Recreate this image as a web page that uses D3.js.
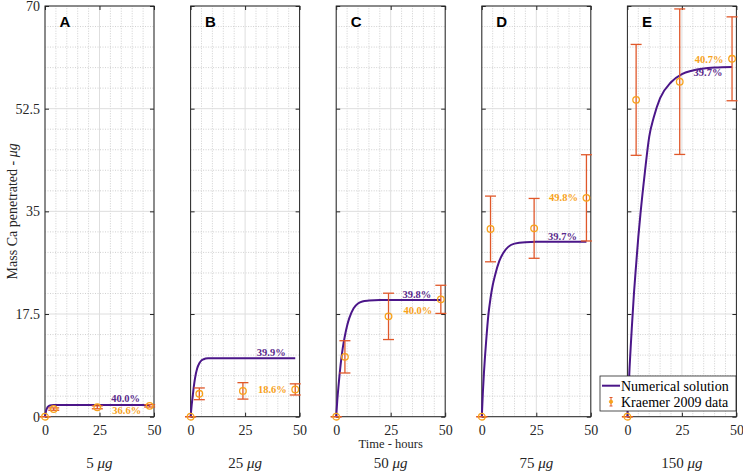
<!DOCTYPE html>
<html>
<head>
<meta charset="utf-8">
<script src="https://cdn.jsdelivr.net/npm/d3@7"></script>
<style>
  body { margin: 0; background: #fff; }
</style>
</head>
<body>
<svg id="grafico"></svg>
<script>
// painéis (doses) e letras
const letras = ['A', 'B', 'C', 'D', 'E'];
const doses = [5, 25, 50, 75, 150];

// solução numérica (µg), nos tempos da curva
const tempoCurva = [0, 0.5, 1, 1.5, 2, 3, 4, 5, 6, 8, 10, 12, 15, 20, 25, 30, 40, 48];
const curvaA = [0, 1.0, 1.5, 1.75, 1.88, 1.96, 1.99, 2.0, 2.0, 2.0, 2.0, 2.0, 2.0, 2.0, 2.0, 2.0, 2.0, 2.0];
const curvaB = [0, 2.0, 3.6, 5.2, 6.5, 8.2, 9.1, 9.6, 9.8, 9.95, 9.98, 9.98, 9.98, 9.98, 9.98, 9.98, 9.98, 9.98];
const curvaC = [0, 2.8, 5.0, 7.0, 8.8, 11.7, 13.8, 15.5, 16.8, 18.5, 19.3, 19.65, 19.8, 19.9, 19.9, 19.9, 19.9, 19.9];
const curvaD = [0, 4.2, 7.6, 10.4, 12.9, 17.3, 20.2, 22.4, 24.0, 26.5, 28.0, 28.9, 29.5, 29.75, 29.8, 29.8, 29.8, 29.8];
const curvaE = [0, 4.3, 8.4, 11.8, 15.0, 21.0, 25.9, 30.6, 34.6, 41.6, 47.7, 50.9, 54.3, 57.0, 58.4, 59.0, 59.5, 59.6];

// dados de Kraemer 2009 (média e erro)
const tempoDados = [0, 4, 24, 48];
const mediaA = [0, 1.3, 1.6, 1.85];
const erroA = [0, 0.2, 0.25, 0.2];
const mediaB = [0, 3.9, 4.4, 4.65];
const erroB = [0, 1.0, 1.4, 0.95];
const mediaC = [0, 10.2, 17.1, 20.0];
const erroC = [0, 2.75, 3.95, 2.4];
const mediaD = [0, 32.0, 32.1, 37.3];
const erroD = [0, 5.6, 5.1, 7.35];
const mediaE = [0, 54.0, 57.1, 61.0];
const erroE = [0, 9.45, 12.4, 7.15];

// rótulos de porcentagem
const pctModelo = ['40.0%', '39.9%', '39.8%', '39.7%', '39.7%'];
const pctDados = ['36.6%', '18.6%', '40.0%', '49.8%', '40.7%'];

// ticks
const ticksX = [0, 25, 50];
const ticksY = [0, 17.5, 35, 52.5, 70];
const rotulosY = ['0', '17.5', '35', '52.5', '70'];

const curvas = [curvaA, curvaB, curvaC, curvaD, curvaE];
const medias = [mediaA, mediaB, mediaC, mediaD, mediaE];
const erros = [erroA, erroB, erroC, erroD, erroE];

// deslocamento (px) dos rótulos de porcentagem
const desvioModelo = [-3, -2.3, -2.4, -2, 9.4];
const desvioDados = [8.5, 3.6, 15, 3.4, 4];

const largura = 743, altura = 471;
const serifa = '"Liberation Serif", "Times New Roman", serif';
const corCurva = '#4b1689';
const corTexto = '#5a2a8c';
const corMarca = '#f7a21b';
const corErro = '#e0582a';
const corEixo = '#262626';

let svg = d3.select('#grafico')
  .attr('width', largura)
  .attr('height', altura)
  .style('font-family', serifa);

// posição dos painéis
let fnPainel = d3.scaleBand()
  .domain(letras)
  .range([45, 736.4])
  .paddingInner(0.2514);

let larguraPainel = fnPainel.bandwidth();

let fnX = d3.scaleLinear().domain([0, 50]).range([0, larguraPainel]);
let fnY = d3.scaleLinear().domain([0, 70]).range([416.7, 6]);

let linha = d3.line()
  .x((d) => fnX(d[0]))
  .y((d) => fnY(d[1]))
  .curve(d3.curveMonotoneX);

letras.forEach((letra, i) => {
  let g = svg.append('g')
    .attr('transform', 'translate(' + fnPainel(letra) + ',0)');

  // grade menor pontilhada
  let menorX = d3.range(5, 50, 5).filter((v) => v % 25 !== 0);
  let menorY = d3.range(3.5, 70, 3.5).filter((v) => Math.abs(v / 17.5 - Math.round(v / 17.5)) > 0.01);
  g.selectAll('.gmx').data(menorX).enter().append('line')
    .attr('x1', (d) => fnX(d)).attr('x2', (d) => fnX(d))
    .attr('y1', fnY(0)).attr('y2', fnY(70))
    .attr('stroke', '#c4c4c4').attr('stroke-width', 0.8).attr('stroke-dasharray', '1,1.5');
  g.selectAll('.gmy').data(menorY).enter().append('line')
    .attr('x1', 0).attr('x2', larguraPainel)
    .attr('y1', (d) => fnY(d)).attr('y2', (d) => fnY(d))
    .attr('stroke', '#c4c4c4').attr('stroke-width', 0.8).attr('stroke-dasharray', '1,1.5');

  // grade maior
  g.selectAll('.gx').data(ticksX).enter().append('line')
    .attr('x1', (d) => fnX(d)).attr('x2', (d) => fnX(d))
    .attr('y1', fnY(0)).attr('y2', fnY(70))
    .attr('stroke', '#dedede').attr('stroke-width', 1);
  g.selectAll('.gy').data(ticksY).enter().append('line')
    .attr('x1', 0).attr('x2', larguraPainel)
    .attr('y1', (d) => fnY(d)).attr('y2', (d) => fnY(d))
    .attr('stroke', '#dedede').attr('stroke-width', 1);

  // moldura
  g.append('rect')
    .attr('x', 0).attr('y', fnY(70))
    .attr('width', larguraPainel).attr('height', fnY(0) - fnY(70))
    .attr('fill', 'none').attr('stroke', corEixo).attr('stroke-width', 1);

  // eixos com ticks para dentro
  let eixoBaixo = d3.axisBottom(fnX).tickValues(ticksX).tickSize(-4).tickPadding(8).tickFormat(d3.format('d'));
  let gx = g.append('g').attr('transform', 'translate(0,' + fnY(0) + ')').call(eixoBaixo);
  gx.select('.domain').remove();
  gx.selectAll('line').attr('stroke', corEixo);
  gx.selectAll('text').attr('font-size', 14).attr('fill', '#262626')
    .style('font-family', serifa);

  let eixoCima = d3.axisTop(fnX).tickValues(ticksX).tickSize(-4).tickFormat('');
  let gt = g.append('g').attr('transform', 'translate(0,' + fnY(70) + ')').call(eixoCima);
  gt.select('.domain').remove();
  gt.selectAll('line').attr('stroke', corEixo);

  let eixoEsq = d3.axisLeft(fnY).tickValues(ticksY).tickSize(-4).tickPadding(5)
    .tickFormat((d, j) => (i === 0 ? rotulosY[j] : ''));
  let gl = g.append('g').call(eixoEsq);
  gl.select('.domain').remove();
  gl.selectAll('line').attr('stroke', corEixo);
  gl.selectAll('text').attr('font-size', 14).attr('fill', '#262626')
    .style('font-family', serifa);

  let eixoDir = d3.axisRight(fnY).tickValues(ticksY).tickSize(-4).tickFormat('');
  let gr = g.append('g').attr('transform', 'translate(' + larguraPainel + ',0)').call(eixoDir);
  gr.select('.domain').remove();
  gr.selectAll('line').attr('stroke', corEixo);

  // letra do painel
  g.append('text')
    .attr('x', 14.5).attr('y', 27)
    .style('font-family', '"Liberation Sans", Arial, sans-serif')
    .attr('font-weight', 'bold').attr('font-size', 15)
    .text(letra);

  // curva da solução numérica
  let pontosCurva = tempoCurva.map((t, j) => [t, curvas[i][j]]);
  g.append('path')
    .datum(pontosCurva)
    .attr('d', linha)
    .attr('fill', 'none')
    .attr('stroke', corCurva)
    .attr('stroke-width', 2);

  // barras de erro
  let dados = tempoDados.map((t, j) => ({ t: t, m: medias[i][j], e: erros[i][j] }));
  let barras = g.selectAll('.erro').data(dados).enter().append('g').classed('erro', true);
  barras.append('line')
    .attr('x1', (d) => fnX(d.t)).attr('x2', (d) => fnX(d.t))
    .attr('y1', (d) => fnY(d.m - d.e)).attr('y2', (d) => fnY(d.m + d.e))
    .attr('stroke', corErro).attr('stroke-width', 1.3);
  [-1, 1].forEach((s) => {
    barras.append('line')
      .attr('x1', (d) => fnX(d.t) - 5.5).attr('x2', (d) => fnX(d.t) + 5.5)
      .attr('y1', (d) => fnY(d.m + s * d.e)).attr('y2', (d) => fnY(d.m + s * d.e))
      .attr('stroke', corErro).attr('stroke-width', 1.3);
  });
  barras.append('circle')
    .attr('cx', (d) => fnX(d.t)).attr('cy', (d) => fnY(d.m))
    .attr('r', 3.3)
    .attr('fill', 'none').attr('stroke', corMarca).attr('stroke-width', 1.3);

  // rótulos de porcentagem
  let ultimo = curvas[i][curvas[i].length - 1];
  g.append('text')
    .attr('x', fnX(37)).attr('y', fnY(ultimo) + desvioModelo[i])
    .attr('text-anchor', 'middle')
    .attr('font-weight', 'bold').attr('font-size', 10.5)
    .attr('fill', corTexto)
    .text(pctModelo[i]);
  g.append('text')
    .attr('x', fnX(37.5)).attr('y', fnY(medias[i][3]) + desvioDados[i])
    .attr('text-anchor', 'middle')
    .attr('font-weight', 'bold').attr('font-size', 10.5)
    .attr('fill', corMarca)
    .text(pctDados[i]);

  // dose abaixo do painel
  let dose = g.append('text')
    .attr('x', larguraPainel / 2).attr('y', 468)
    .attr('text-anchor', 'middle')
    .attr('font-size', 15).attr('fill', '#262626');
  dose.append('tspan').text(doses[i] + ' ');
  dose.append('tspan').attr('font-style', 'italic').text('μg');

  if (i === 2) {
    g.append('text')
      .attr('x', larguraPainel / 2).attr('y', 448)
      .attr('text-anchor', 'middle')
      .attr('font-size', 12.5).attr('fill', '#262626')
      .text('Time - hours');
  }
});

// rótulo do eixo y
let rotY = svg.append('text')
  .attr('transform', 'translate(17,' + ((fnY(0) + fnY(70)) / 2) + ') rotate(-90)')
  .attr('text-anchor', 'middle')
  .attr('font-size', 14).attr('fill', '#262626');
rotY.append('tspan').text('Mass Ca penetrated - ');
rotY.append('tspan').attr('font-style', 'italic').text('μg');

// legenda
let leg = svg.append('g').attr('transform', 'translate(600,376)');
leg.append('rect')
  .attr('width', 136).attr('height', 35)
  .attr('fill', '#fff').attr('stroke', '#262626').attr('stroke-width', 0.8);
leg.append('line')
  .attr('x1', 2).attr('x2', 20).attr('y1', 9.7).attr('y2', 9.7)
  .attr('stroke', corCurva).attr('stroke-width', 2);
leg.append('text').attr('x', 21).attr('y', 14.5).attr('font-size', 14).text('Numerical solution');
leg.append('line')
  .attr('x1', 11).attr('x2', 11).attr('y1', 21.5).attr('y2', 30)
  .attr('stroke', corErro).attr('stroke-width', 1);
[21.5, 30].forEach((y) => {
  leg.append('line')
    .attr('x1', 9.5).attr('x2', 12.5).attr('y1', y).attr('y2', y)
    .attr('stroke', corErro).attr('stroke-width', 1);
});
leg.append('circle')
  .attr('cx', 11).attr('cy', 25.7).attr('r', 1.6)
  .attr('fill', corMarca).attr('stroke', corMarca);
leg.append('text').attr('x', 21).attr('y', 30.5).attr('font-size', 14).text('Kraemer 2009 data');
</script>
</body>
</html>
